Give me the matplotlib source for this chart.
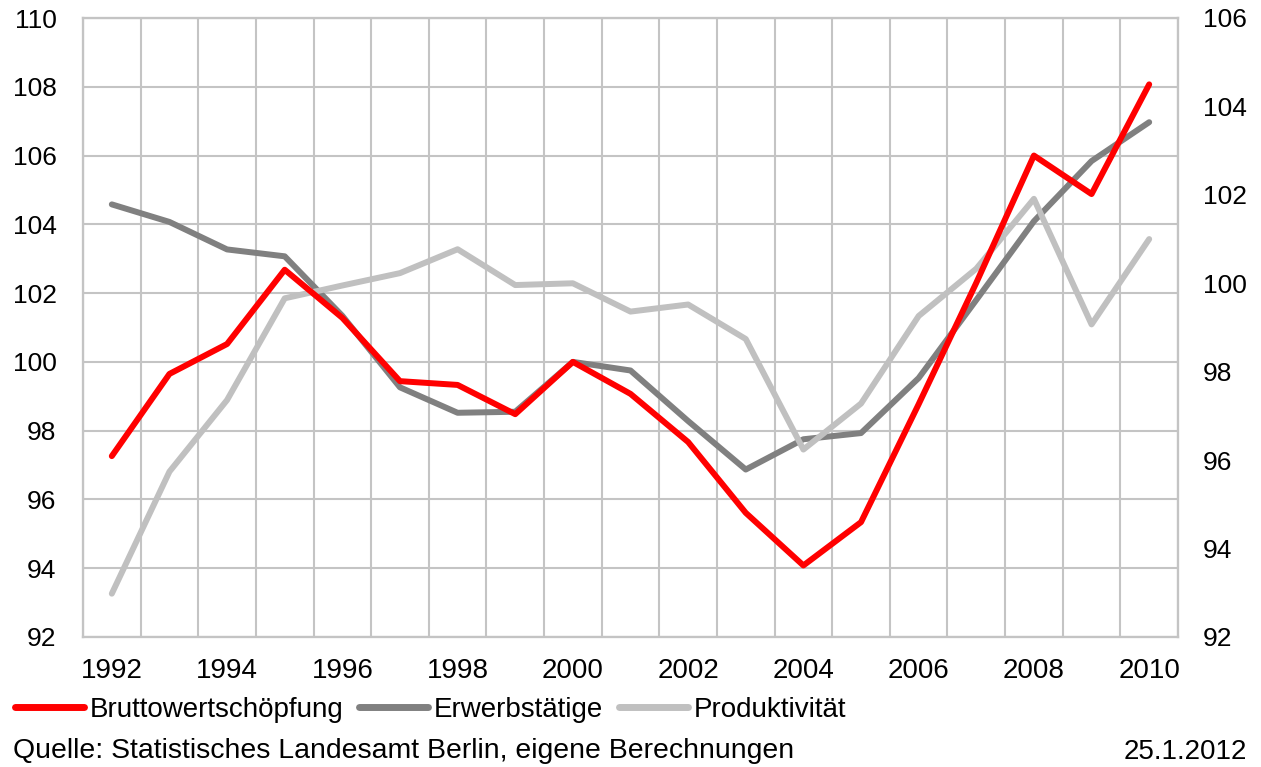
import matplotlib
matplotlib.use("Agg")
import matplotlib.pyplot as plt
from matplotlib.lines import Line2D
from matplotlib.ticker import MultipleLocator, FixedLocator

plt.rcParams['font.family'] = ['Liberation Sans', 'DejaVu Sans']

years = list(range(1992, 2011))
year_labels = [str(y) if y % 2 == 0 else "" for y in years]

# Index values (2000 = 100)
bruttowertschoepfung = [97.26, 99.65, 100.52, 102.68, 101.28, 99.44, 99.33, 98.48, 100.0,
                        99.07, 97.67, 95.61, 94.08, 95.34, 98.77, 102.3, 106.0, 104.88, 108.07]
erwerbstaetige = [104.58, 104.07, 103.27, 103.07, 101.34, 99.26, 98.52, 98.55, 100.0,
                  99.75, 98.28, 96.87, 97.75, 97.93, 99.53, 101.8, 104.09, 105.84, 106.97]
produktivitaet = [92.98, 95.74, 97.36, 99.66, 99.95, 100.23, 100.77, 99.96, 100.0,
                  99.36, 99.52, 98.74, 96.24, 97.28, 99.26, 100.33, 101.91, 99.07, 101.0]

RED = "#ff0000"
GRAY = "#808080"
LIGHT = "#c0c0c0"
GRID = "#c4c4c4"
FS_Y = 19
FS = 20

W, H = 1261, 767
fig = plt.figure(figsize=(W / 100, H / 100), dpi=100)
ax = fig.add_axes([83 / W, (H - 637) / H, (1178 - 83) / W, (637 - 18) / H])
ax2 = ax.twinx()   # right scale: Produktivität
ax3 = ax.twinx()   # left scale again, keeps the red series on top
ax3.set_ylim(92, 110)
ax3.set_yticks([])

x = list(range(len(years)))
line_kw = dict(lw=4.3, solid_capstyle='round', solid_joinstyle='round')
ax.plot(x, erwerbstaetige, color=GRAY, zorder=3, **line_kw)
ax2.plot(x, produktivitaet, color=LIGHT, zorder=3, **line_kw)
ax3.plot(x, bruttowertschoepfung, color=RED, zorder=3, **line_kw)

ax.set_xlim(-0.5, len(years) - 0.5)
ax.set_ylim(92, 110)
ax2.set_ylim(92, 106)
ax.yaxis.set_major_locator(MultipleLocator(2))
ax2.yaxis.set_major_locator(MultipleLocator(2))

ax.set_xticks(x)
ax.set_xticklabels(year_labels)
ax.xaxis.set_minor_locator(FixedLocator([i - 0.5 for i in range(len(years) + 1)]))

ax.grid(True, which='major', axis='y', color=GRID, lw=1.5, zorder=0)
ax.grid(True, which='minor', axis='x', color=GRID, lw=1.5, zorder=0)
ax.set_axisbelow(True)

for a in (ax, ax2, ax3):
    for s in a.spines.values():
        s.set_color(GRID)
        s.set_linewidth(1.5)

ax.tick_params(axis='both', which='both', length=0, colors='black')
ax.tick_params(axis='y', labelsize=FS_Y, pad=19)
ax.tick_params(axis='x', labelsize=FS, pad=15)
ax2.tick_params(axis='y', length=0, labelsize=FS_Y, pad=18)

handles = [Line2D([], [], color=RED, lw=5, solid_capstyle='round'),
           Line2D([], [], color=GRAY, lw=5, solid_capstyle='round'),
           Line2D([], [], color=LIGHT, lw=5, solid_capstyle='round')]
fig.legend(handles, ["Bruttowertschöpfung", "Erwerbstätige", "Produktivität"],
           loc='center left', bbox_to_anchor=(15 / W, 1 - 710 / H), ncol=3,
           frameon=False, fontsize=FS, handlelength=2.5, handletextpad=0.2,
           columnspacing=0.55, borderaxespad=0, borderpad=0)

fig.text(13 / W, 1 - 751 / H, "Quelle: Statistisches Landesamt Berlin, eigene Berechnungen",
         fontsize=20.4, va='center', ha='left')
fig.text(1247 / W, 1 - 752 / H, "25.1.2012", fontsize=FS, va='center', ha='right')

fig.savefig("out.png", dpi=100)
